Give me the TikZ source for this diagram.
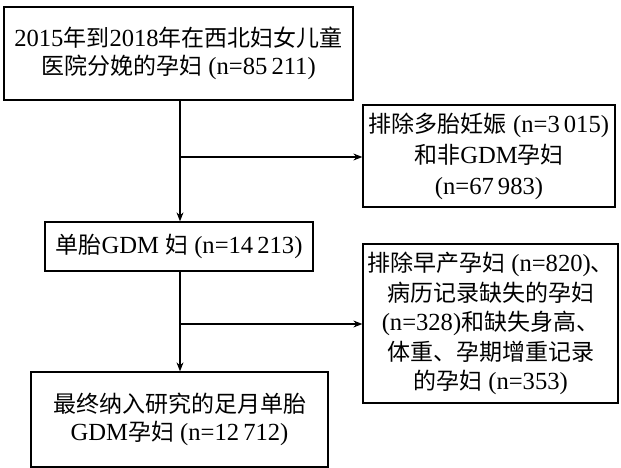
\documentclass[tikz,border=0pt]{standalone}
\usepackage{fontspec}
\usepackage{tikz}
\usetikzlibrary{arrows.meta}
\usetikzlibrary{positioning}
\setmainfont{Liberation Serif}[Scale=1.07]
\newfontfamily\cjk{Noto Sans CJK SC}
\newcommand{\zh}[1]{{\cjk #1}}

\begin{document}
\begin{tikzpicture}[
    x=1pt, y=-1pt,
    flow box/.style={
        draw=black,
        line width=1.3pt,
        align=center,
        inner sep=1pt,
        font=\fontsize{23}{29.5}\selectfont
    },
    flow arrow/.style={
        line width=1.1pt,
        -{Stealth[length=9pt,width=7pt]}
    }
]
    \useasboundingbox (0,0) rectangle (621,468);

    % 主流程框
    \node[flow box, minimum width=349pt, minimum height=93pt,
          font=\fontsize{23}{27.5}\selectfont] (total) at (178.5,53.5)
        {2015\zh{年到}2018\zh{年在西北妇女儿童}\\\zh{医院分娩的孕妇} (n=85\,211)};
    \node[flow box, minimum width=268pt, minimum height=49pt] (single) at (179,246.5)
        {\zh{单胎}GDM \zh{妇} (n=14\,213)};
    \node[flow box, minimum width=297pt, minimum height=95pt,
          font=\fontsize{23}{28.5}\selectfont] (final) at (179.5,419.5)
        {\zh{最终纳入研究的足月单胎}\\GDM\zh{孕妇} (n=12\,712)};

    % 排除框
    \node[flow box, minimum width=252pt, minimum height=102pt,
          font=\fontsize{23}{31}\selectfont] (excl1) at (489,156)
        {\zh{排除多胎妊娠} (n=3\,015)\\\zh{和非}GDM\zh{孕妇}\\(n=67\,983)};
    \node[flow box, minimum width=255pt, minimum height=159pt] (excl2) at (490.5,323.5)
        {\zh{排除早产孕妇} (n=820)\zh{、}\\\zh{病历记录缺失的孕妇}\\(n=328)\zh{和缺失身高、}\\\zh{体重、孕期增重记录}\\\zh{的孕妇} (n=353)};

    % 分支点
    \coordinate (split1) at (180,157);
    \coordinate (split2) at (180,324);

    % 连线
    \draw[line width=1.1pt] (total.south -| split1) -- (split1);
    \draw[flow arrow] (split1) -- (single.north -| split1);
    \draw[flow arrow] (split1) -- (split1 -| excl1.west);
    \draw[line width=1.1pt] (single.south -| split2) -- (split2);
    \draw[flow arrow] (split2) -- (final.north -| split2);
    \draw[flow arrow] (split2) -- (split2 -| excl2.west);
\end{tikzpicture}
\end{document}
